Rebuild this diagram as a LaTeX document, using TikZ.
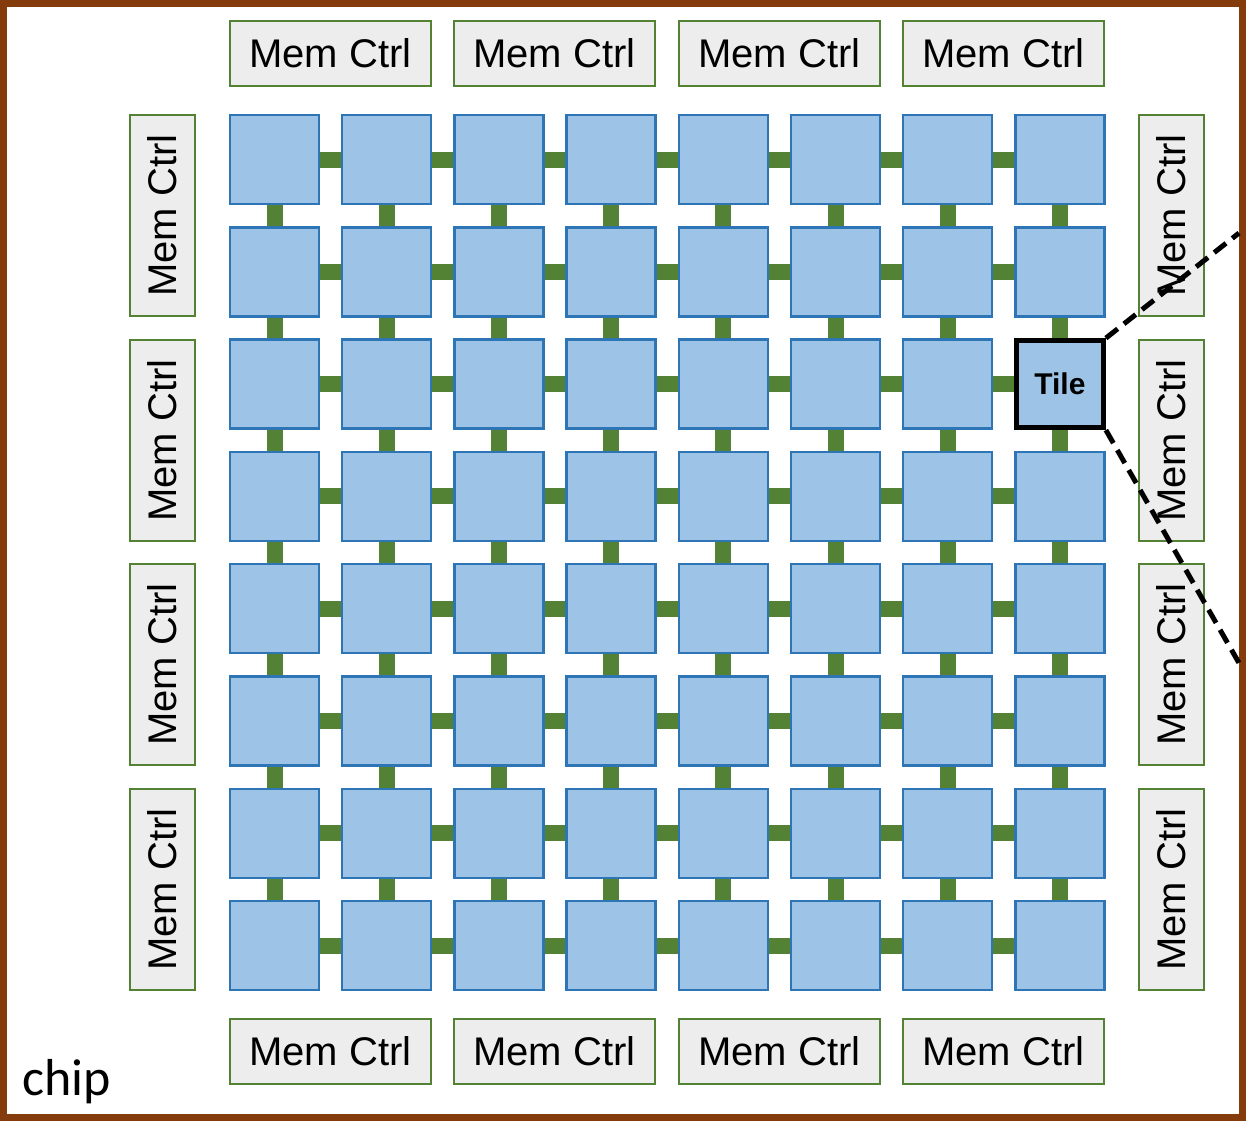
\documentclass[tikz,border=0pt]{standalone}
\usepackage{fontspec}
\setmainfont{Liberation Sans}
\newfontfamily\chipfont{Carlito}
\definecolor{chipbrown}{HTML}{843C0C}
\definecolor{linkgreen}{HTML}{548235}
\definecolor{tilefill}{HTML}{9DC3E6}
\definecolor{tileedge}{HTML}{2E75B6}
\definecolor{memfill}{HTML}{EDEDED}
\tikzset{
  tilebox/.style={draw=tileedge, fill=tilefill, line width=2.5pt, minimum size=89pt, inner sep=0pt},
  hilite/.style={draw=black, fill=tilefill, line width=5pt, minimum size=87pt, inner sep=0pt, font=\fontsize{30}{34}\selectfont\bfseries},
  memh/.style={draw=linkgreen, fill=memfill, line width=2pt, minimum width=201pt, minimum height=65pt, inner sep=0pt, font=\fontsize{40}{46}\selectfont},
  memv/.style={memh, rotate=90},
  link/.style={draw=linkgreen, line width=16pt},
  zoomline/.style={draw=black, line width=5pt, dash pattern=on 15pt off 8pt}
}
\begin{document}
\begin{tikzpicture}[x=1pt, y=-1pt]
\useasboundingbox (0,0) rectangle (1246,1121);
\fill[white] (0,0) rectangle (1246,1121);
\draw[chipbrown, line width=7pt] (3.5,3.5) rectangle (1242.5,1117.5);
% tiles
\foreach \r in {1,...,8}{
  \foreach \c in {1,...,8}{
    \pgfmathsetmacro{\xx}{274.5+112.2*(\c-1)}
    \pgfmathsetmacro{\yy}{159.5+112.3*(\r-1)}
    \ifnum\r=3 \ifnum\c=8
      \node[hilite] (t-\r-\c) at (\xx,\yy) {Tile};
    \else
      \node[tilebox] (t-\r-\c) at (\xx,\yy) {};
    \fi\else
      \node[tilebox] (t-\r-\c) at (\xx,\yy) {};
    \fi
  }
}
% links
\foreach \r in {1,...,8}{
  \foreach \c [evaluate=\c as \n using int(\c+1)] in {1,...,7}{
    \draw[link] (t-\r-\c.east) -- (t-\r-\n.west);
  }
}
\foreach \r [evaluate=\r as \n using int(\r+1)] in {1,...,7}{
  \foreach \c in {1,...,8}{
    \draw[link] (t-\r-\c.south) -- (t-\n-\c.north);
  }
}
% memory controllers
\foreach \i/\x in {1/330.5,2/554.5,3/779.5,4/1003.5}{
  \node[memh] (mt-\i) at (\x,53.5) {Mem Ctrl};
  \node[memh] (mb-\i) at (\x,1051.5) {Mem Ctrl};
}
\foreach \i/\y in {1/215.5,2/440.5,3/664.5,4/889.5}{
  \node[memv] (ml-\i) at (162.5,\y) {Mem Ctrl};
  \node[memv] (mr-\i) at (1171,\y) {Mem Ctrl};
}
% zoom lines
\coordinate (zt) at (1239,233);
\coordinate (zb) at (1239,663);
\draw[zoomline] (t-3-8.north east) -- (zt);
\draw[zoomline] (t-3-8.south east) -- (zb);
\node[anchor=base west, inner sep=0pt, font=\chipfont\fontsize{52}{58}\selectfont] (chip) at (22,1095) {chip};
\end{tikzpicture}
\end{document}
